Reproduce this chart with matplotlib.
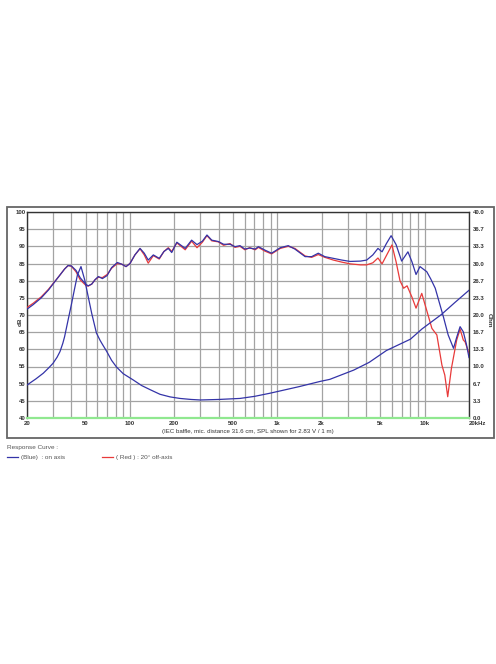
import numpy as np
import matplotlib.pyplot as plt
from matplotlib.patches import Rectangle

plt.rcParams['font.family'] = ['Liberation Sans', 'DejaVu Sans']

# on-axis SPL (blue), Hz / dB
freq_blue = [20, 22, 25, 28, 30, 33, 36, 38, 40, 43, 46, 50, 52, 55, 58, 61, 65, 70, 75, 82,
             88, 94, 100, 108, 117, 125, 133, 144, 158, 170, 182, 192, 208, 237, 262, 285,
             310, 333, 359, 398, 432, 478, 516, 558, 602, 650, 708, 744, 824, 914, 1048,
             1186, 1316, 1544, 1711, 1897, 2100, 2400, 2740, 3120, 3670, 4040, 4450, 4820,
             5140, 5500, 5920, 6400, 6980, 7700, 8200, 8740, 9300, 10340, 11000, 11800,
             12600, 13400, 14440, 15700, 16500, 17400, 18300, 19200, 20000]
spl_blue = [71.7, 73.0, 75.0, 77.3, 79.0, 81.3, 83.4, 84.4, 84.3, 83.0, 80.8, 79.0, 78.5,
            79.0, 80.3, 81.2, 80.6, 81.5, 83.8, 85.3, 84.8, 84.1, 85.0, 87.5, 89.4, 88.0,
            86.0, 87.5, 86.5, 88.5, 89.4, 88.2, 91.2, 89.4, 91.8, 90.5, 91.5, 93.3, 91.8,
            91.4, 90.6, 90.6, 89.9, 90.2, 89.2, 89.5, 89.2, 89.9, 88.9, 88.0, 89.6, 90.2,
            89.2, 87.0, 87.0, 88.0, 87.0, 86.5, 86.0, 85.6, 85.7, 86.0, 87.5, 89.4, 88.4,
            90.8, 93.1, 90.5, 85.7, 88.4, 85.5, 81.8, 84.1, 82.6, 80.5, 77.8, 73.5, 69.5,
            64.2, 60.3, 63.5, 66.6, 65.1, 61.5, 57.6]

# 20 deg off-axis SPL (red), Hz / dB
freq_red = [20, 22, 25, 28, 30, 33, 36, 38, 40, 43, 46, 50, 52, 55, 58, 61, 65, 70, 75, 82,
            88, 94, 100, 108, 117, 125, 133, 144, 158, 170, 182, 192, 208, 237, 262, 285,
            310, 333, 359, 398, 432, 478, 516, 558, 602, 650, 708, 744, 824, 914, 1048,
            1186, 1316, 1544, 1711, 1897, 2100, 2400, 2740, 3120, 3670, 4040, 4450, 4820,
            5140, 5500, 6000, 6400, 6800, 7200, 7600, 8200, 8740, 9560, 10300, 11200,
            12100, 13100, 13700, 14340, 15200, 16500, 17400, 18300, 18800, 20000]
spl_red = [72.2, 73.4, 75.3, 77.5, 79.1, 81.3, 83.4, 84.4, 84.2, 82.6, 80.2, 78.7, 78.4,
           79.0, 80.3, 81.0, 80.9, 81.8, 83.6, 85.0, 84.8, 84.1, 85.0, 87.5, 89.3, 87.5,
           85.1, 87.3, 86.3, 88.5, 89.6, 88.5, 91.0, 89.0, 91.5, 89.6, 91.2, 93.1, 91.6,
           91.3, 90.3, 90.8, 89.7, 90.0, 89.0, 89.6, 89.0, 89.7, 88.6, 87.8, 89.4, 90.0,
           89.4, 87.2, 86.8, 87.6, 86.8, 86.0, 85.4, 84.9, 84.6, 84.6, 85.2, 86.6, 84.9,
           87.3, 90.4, 85.5, 80.0, 77.8, 78.5, 75.2, 72.0, 76.3, 71.5, 66.1, 64.2, 55.4,
           52.5, 46.2, 54.5, 62.7, 65.9, 62.7, 62.2, 58.8]

# impedance (blue), Hz / Ohm
freq_imp = [20, 23, 25.8, 28, 30, 32, 33.5, 35, 36, 38, 40, 42, 44, 46.5, 49.3, 52.1, 55,
            59.2, 62.6, 65, 69.6, 75, 81, 90, 105, 120, 137, 160, 187, 218, 260, 300, 400,
            558, 700, 888, 1100, 1410, 1950, 2270, 3300, 4200, 5500, 8000, 9600, 13000,
            16000, 20000]
imp_ohm = [6.4, 7.6, 8.7, 9.7, 10.6, 11.8, 12.9, 14.5, 15.8, 19.0, 22.0, 25.0, 27.8, 29.4,
           26.8, 23.5, 20.3, 16.5, 15.1, 14.3, 12.9, 11.2, 9.9, 8.6, 7.4, 6.3, 5.5, 4.6,
           4.1, 3.8, 3.6, 3.5, 3.6, 3.8, 4.2, 4.8, 5.4, 6.1, 7.1, 7.5, 9.3, 10.8, 13.1,
           15.3, 17.3, 20.1, 22.4, 24.8]

x_ticks = [20, 50, 100, 200, 500, 1000, 2000, 5000, 10000, 20000]
x_labels = ["20", "50", "100", "200", "500", "1k", "2k", "5k", "10k", "20kHz"]

W, H = 496, 664
fig = plt.figure(figsize=(W / 100, H / 100), dpi=100)

# outer frame
fig.patches.append(Rectangle((7 / W, 1 - 438 / H), 487 / W, 231 / H, transform=fig.transFigure,
                             fill=False, edgecolor="#666666", linewidth=1.3))

ax = fig.add_axes([27 / W, 1 - 418 / H, 442 / W, 206 / H])
ax.set_xscale("log")
ax.set_xlim(20, 20000)
ax.set_ylim(40, 100)

minor = [f * d for d in (10, 100, 1000) for f in range(2, 10)]
minor = [m for m in minor if m not in x_ticks and m <= 20000]
ax.set_xticks(x_ticks)
ax.set_xticklabels(x_labels)
ax.set_xticks(minor, minor=True)
ax.set_xticklabels([], minor=True)
ax.set_yticks(np.arange(40, 101, 5))
ax.grid(True, which="both", color="#a3a3a3", linewidth=0.9)
ax.tick_params(which="both", length=0)
ax.tick_params(axis="x", pad=2, labelsize=4.3, labelcolor="#333333")
ax.tick_params(axis="y", pad=1.2, labelsize=4.3, labelcolor="#333333")
for lab in ax.get_xticklabels() + ax.get_yticklabels():
    lab.set_fontweight("bold")
ax.get_xticklabels()[-1].set_ha("left")
for side in ("left", "right", "top"):
    ax.spines[side].set_color("#333333")
    ax.spines[side].set_linewidth(1.0)
ax.spines["bottom"].set_visible(False)
ax.axhline(40, color="#90e890", linewidth=1.6, zorder=3, clip_on=False)

ax.plot(freq_red, spl_red, color="#e83a3a", linewidth=0.9, zorder=4)
ax.plot(freq_blue, spl_blue, color="#3434a8", linewidth=0.9, zorder=5)

ax2 = ax.twinx()
ax2.set_ylim(0, 40)
r_ticks = np.linspace(0, 40, 13)
ax2.set_yticks(r_ticks)
ax2.set_yticklabels([f"{v:.1f}" for v in r_ticks])
ax2.tick_params(length=0, pad=2.5, labelsize=4.3, labelcolor="#333333")
for lab in ax2.get_yticklabels():
    lab.set_fontweight("bold")
for s in ax2.spines.values():
    s.set_visible(False)
ax2.plot(freq_imp, imp_ohm, color="#3434a8", linewidth=0.9, zorder=5)

ax.set_xlabel("(IEC baffle, mic. distance 31.6 cm, SPL shown for 2.83 V / 1 m)",
              fontsize=4.4, color="#333333", labelpad=2)
fig.text(20.5 / W, 1 - 322 / H, "dB", rotation=90, fontsize=4.6, fontweight="bold",
         color="#333333", ha="center", va="center")
fig.text(489 / W, 1 - 320 / H, "Ohm", rotation=-90, fontsize=4.6, fontweight="bold",
         color="#333333", ha="center", va="center")

# legend under the frame
fig.text(7 / W, 1 - 447 / H, "Response Curve :", fontsize=4.6, color="#555555",
         ha="left", va="center")
fig.add_artist(plt.Line2D([7 / W, 18 / W], [1 - 457 / H] * 2, color="#3434a8", linewidth=0.9))
fig.text(21 / W, 1 - 457 / H, "(Blue)  : on axis", fontsize=4.6, color="#555555",
         ha="left", va="center")
fig.add_artist(plt.Line2D([102 / W, 113 / W], [1 - 457 / H] * 2, color="#e83a3a", linewidth=0.9))
fig.text(116 / W, 1 - 457 / H, "( Red ) : 20\u00b0 off-axis", fontsize=4.6, color="#555555",
         ha="left", va="center")

fig.savefig("out.png", dpi=100)
